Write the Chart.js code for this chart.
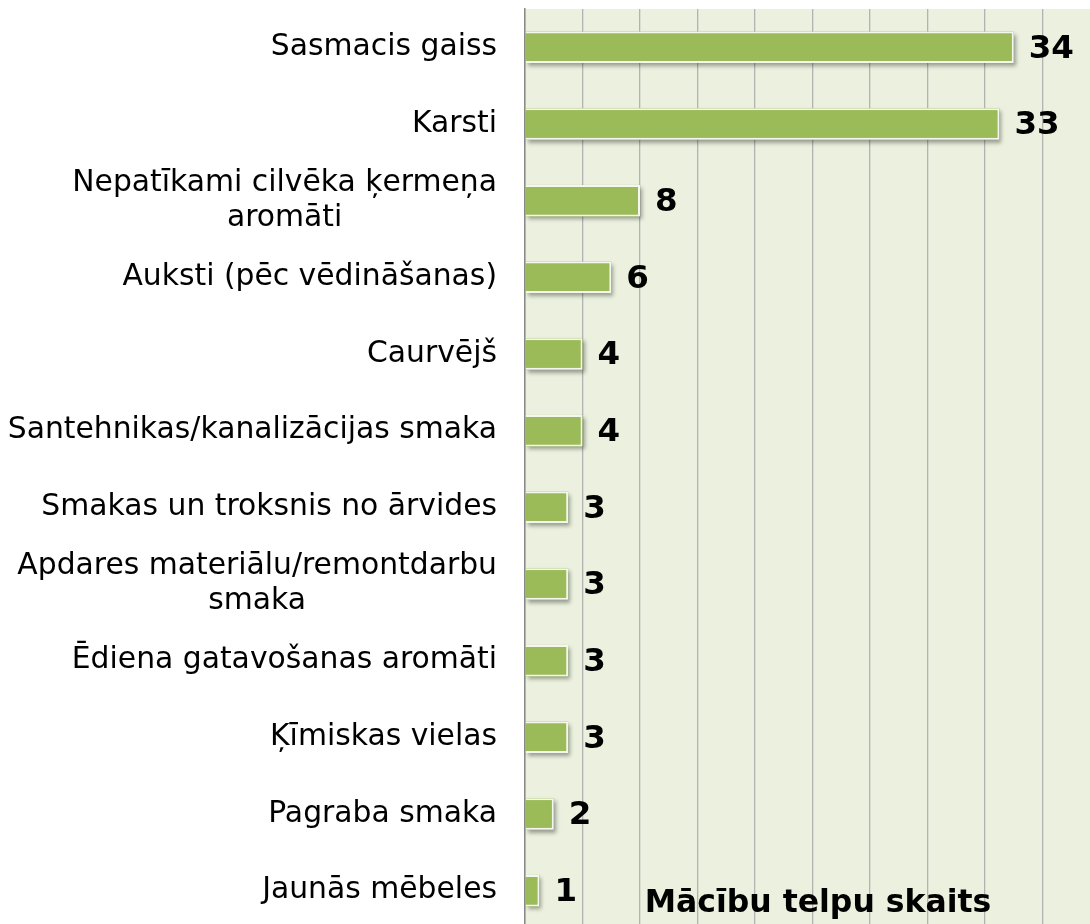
<!DOCTYPE html>
<html>
<head>
<meta charset="utf-8">
<script src="https://cdn.jsdelivr.net/npm/chart.js@4"></script>
<style>
  html, body { margin: 0; padding: 0; background: #fff; overflow: hidden; }
  #wrap { width: 1101px; height: 940px; }
</style>
</head>
<body>
<div id="wrap"><canvas id="chart" width="1101" height="940"></canvas></div>
<script>
// categories, top to bottom
const categories = [
    ['Sasmacis gaiss'],
    ['Karsti'],
    ['Nepatīkami cilvēka ķermeņa', 'aromāti'],
    ['Auksti (pēc vēdināšanas)'],
    ['Caurvējš'],
    ['Santehnikas/kanalizācijas smaka'],
    ['Smakas un troksnis no ārvides'],
    ['Apdares materiālu/remontdarbu', 'smaka'],
    ['Ēdiena gatavošanas aromāti'],
    ['Ķīmiskas vielas'],
    ['Pagraba smaka'],
    ['Jaunās mēbeles']
];
const values = [34, 33, 8, 6, 4, 4, 3, 3, 3, 3, 2, 1];
const axisTitle = 'Mācību telpu skaits';
const xMax = 40;
const xStep = 4;

const labelFont = '29.8px "DejaVu Sans", Verdana, sans-serif';
const valueFont = 'bold 32.5px "DejaVu Sans", Verdana, sans-serif';
const titleFont = 'bold 31.5px "DejaVu Sans", Verdana, sans-serif';

const decorPlugin = {
    id: 'decor',
    beforeDraw(chart) {
        const a = chart.chartArea;
        const ctx = chart.ctx;
        ctx.save();
        ctx.fillStyle = '#ebf1de';
        ctx.fillRect(a.left, a.top, a.right - a.left, a.bottom - a.top);
        ctx.restore();
    },
    beforeDatasetsDraw(chart) {
        // soft shadow under each bar
        const ctx = chart.ctx;
        const meta = chart.getDatasetMeta(0);
        ctx.save();
        ctx.shadowColor = 'rgba(0,0,0,0.35)';
        ctx.shadowBlur = 4;
        ctx.shadowOffsetX = 2;
        ctx.shadowOffsetY = 3;
        ctx.fillStyle = '#9bbb59';
        meta.data.forEach(bar => {
            const h = bar.height;
            ctx.fillRect(bar.base, bar.y - h / 2, bar.x - bar.base, h);
        });
        ctx.restore();
    },
    afterDraw(chart) {
        const ctx = chart.ctx;
        const a = chart.chartArea;
        const yScale = chart.scales.y;
        const xScale = chart.scales.x;
        ctx.save();
        // category labels, block right-aligned, lines centered
        ctx.font = labelFont;
        ctx.fillStyle = '#000';
        ctx.textAlign = 'center';
        ctx.textBaseline = 'middle';
        const lineH = 35;
        const right = a.left - 28;
        categories.forEach((lines, i) => {
            const yc = yScale.getPixelForTick(i);
            const w = Math.max(...lines.map(l => ctx.measureText(l).width));
            const cx = right - w / 2;
            const y0 = yc - (lines.length - 1) * lineH / 2;
            lines.forEach((l, j) => ctx.fillText(l, cx, y0 + j * lineH));
        });
        // value labels
        ctx.font = valueFont;
        ctx.textAlign = 'left';
        values.forEach((v, i) => {
            ctx.fillText(String(v), xScale.getPixelForValue(v) + 15, yScale.getPixelForTick(i) + 2);
        });
        // axis title inside plot
        ctx.font = titleFont;
        ctx.textAlign = 'center';
        ctx.textBaseline = 'alphabetic';
        ctx.fillText(axisTitle, 818, 912);
        ctx.restore();
    }
};

new Chart(document.getElementById('chart'), {
    type: 'bar',
    data: {
        labels: categories,
        datasets: [{
            data: values,
            backgroundColor: '#9bbb59',
            borderColor: '#f4f7ee',
            borderWidth: { top: 2, right: 2, bottom: 2, left: 0 },
            borderSkipped: false,
            barPercentage: 0.41,
            categoryPercentage: 1
        }]
    },
    options: {
        indexAxis: 'y',
        responsive: false,
        animation: false,
        events: [],
        layout: { padding: { top: 9, bottom: 11, right: 1, left: 0 } },
        plugins: { legend: { display: false }, tooltip: { enabled: false } },
        scales: {
            x: {
                min: 0,
                max: xMax,
                ticks: { display: false, stepSize: xStep },
                grid: { color: '#b3b3b3', lineWidth: 1.3, drawTicks: false },
                border: { display: false },
                afterFit(scale) { scale.height = 0; }
            },
            y: {
                ticks: { display: false },
                grid: { display: false, drawTicks: false },
                border: { display: true, color: '#8a8a8a', width: 1.5 },
                afterFit(scale) { scale.width = 525; }
            }
        }
    },
    plugins: [decorPlugin]
});
</script>
</body>
</html>
